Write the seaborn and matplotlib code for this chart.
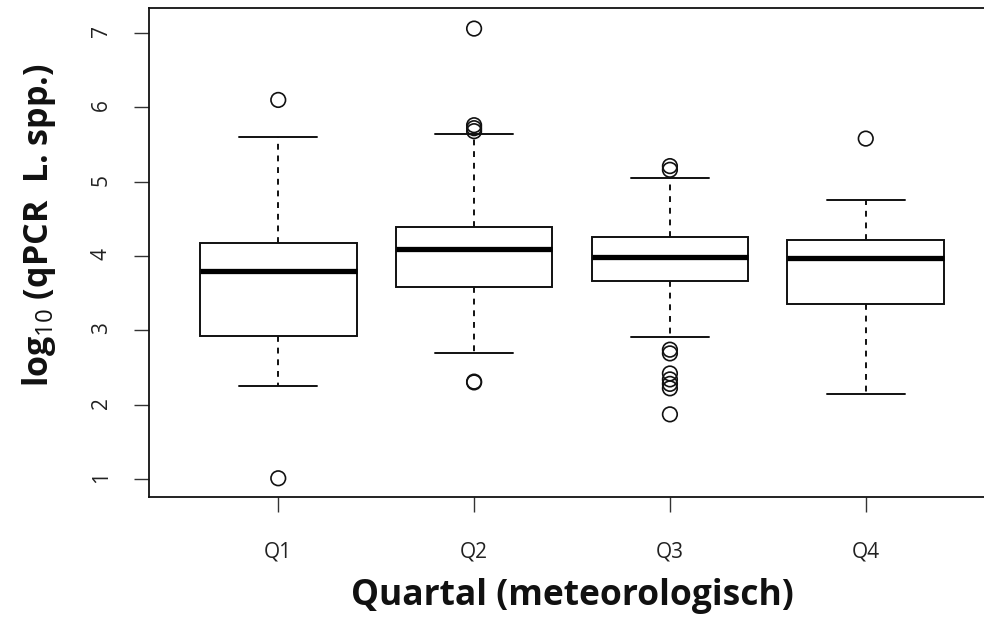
import pandas as pd
import matplotlib.pyplot as plt
import seaborn as sns

# Kennwerte der Boxen (log10 qPCR L. spp.)
quartale = ["Q1", "Q2", "Q3", "Q4"]
whisker_unten = [2.25, 2.70, 2.91, 2.14]
quartil_1 = [2.92, 3.58, 3.66, 3.36]
median = [3.80, 4.09, 3.99, 3.98]
quartil_3 = [4.17, 4.39, 4.25, 4.22]
whisker_oben = [5.60, 5.64, 5.05, 4.76]

# Ausreisser je Quartal
ausreisser_quartal = ["Q1", "Q1",
                      "Q2", "Q2", "Q2", "Q2", "Q2", "Q2",
                      "Q3", "Q3", "Q3", "Q3", "Q3", "Q3", "Q3", "Q3", "Q3",
                      "Q4"]
ausreisser_wert = [6.10, 1.01,
                   7.06, 5.76, 5.72, 5.68, 2.30, 2.31,
                   5.21, 5.16, 2.74, 2.69, 2.42, 2.34, 2.28, 2.22, 1.87,
                   5.58]

# Langformat: fuenf Kennwerte pro Box, Whisker gehen bis Min/Max
boxen = pd.DataFrame({
    "quartal": quartale * 5,
    "wert": whisker_unten + quartil_1 + median + quartil_3 + whisker_oben,
})
punkte = pd.DataFrame({"quartal": ausreisser_quartal, "wert": ausreisser_wert})

sns.set_style("white")
plt.rcParams["font.family"] = ["Open Sans", "DejaVu Sans"]
plt.rcParams["mathtext.fontset"] = "custom"
plt.rcParams["mathtext.rm"] = "Open Sans"

fig = plt.figure(figsize=(9.84, 6.24), dpi=100)
ax = fig.add_axes([149 / 984, 127 / 624, 846 / 984, 489 / 624])

linie = "#111111"
sns.boxplot(data=boxen, x="quartal", y="wert", order=quartale, whis=(0, 100),
            width=0.8, color="white", linecolor=linie, linewidth=1.4,
            showfliers=False, ax=ax,
            whiskerprops={"linestyle": (0, (3, 3))},
            medianprops={"linewidth": 3.8, "color": "black"})
sns.stripplot(data=punkte, x="quartal", y="wert", order=quartale, jitter=False,
              size=10.5, color="black", facecolors="none", edgecolor=linie,
              linewidth=1.2, ax=ax)

ax.set_xlim(-0.66, 3.66)
ax.set_ylim(0.758, 7.337)
ax.set_yticks([1, 2, 3, 4, 5, 6, 7])

for s in ax.spines.values():
    s.set_color(linie)
    s.set_linewidth(1.3)

ax.tick_params(axis="both", direction="out", length=10.8, width=1.0,
               color="#333333", labelsize=15, labelcolor="#222222")
ax.tick_params(axis="x", pad=21, bottom=True)
ax.tick_params(axis="y", pad=16, left=True, labelrotation=90)

ax.set_xlabel("Quartal (meteorologisch)", fontsize=25.5, fontweight="bold",
              color="#111111")
ax.set_ylabel(r"log$_{\mathrm{10}}$ (qPCR  L. spp.)", fontsize=24.5,
              fontweight="bold", color="#111111")
ax.xaxis.set_label_coords(0.5, -0.165)
ax.yaxis.set_label_coords(-0.108, 0.555)

plt.savefig("out.png", dpi=100)
plt.close()
